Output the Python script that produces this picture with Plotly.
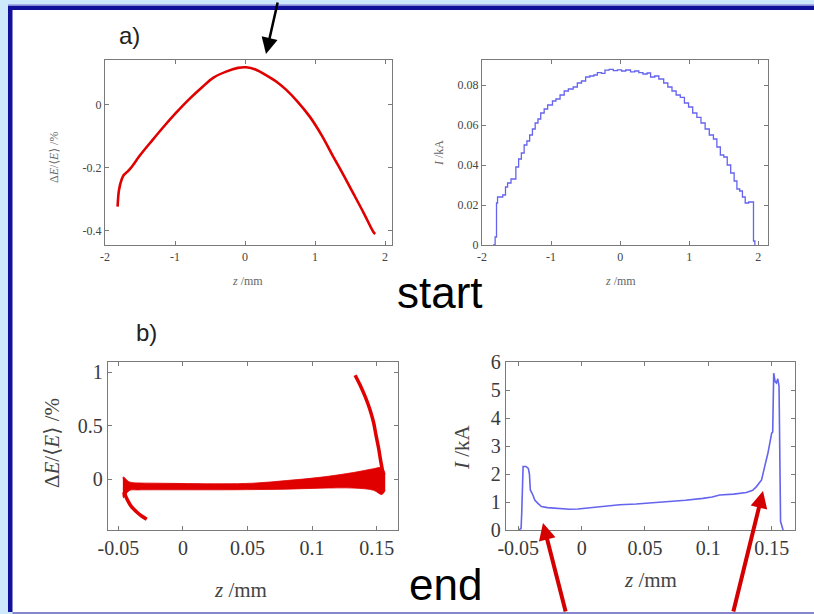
import plotly.graph_objects as go

W, H = 814, 614

# ---------------- data ----------------
# a) start : energy chirp
a_chirp_z = [-1.82, -1.80, -1.76, -1.73, -1.68, -1.63, -1.50, -1.32, -1.15, -0.99, -0.80, -0.605, -0.45,
             -0.27, -0.10, 0.017, 0.15, 0.30, 0.45, 0.59, 0.75, 0.925, 1.10, 1.26, 1.40, 1.545, 1.70, 1.83, 1.86]
a_chirp_e = [-0.323, -0.27, -0.235, -0.222, -0.212, -0.20, -0.16, -0.111, -0.066, -0.026, 0.018, 0.058, 0.087,
             0.106, 0.118, 0.12, 0.113, 0.095, 0.074, 0.048, 0.011, -0.037, -0.098, -0.164, -0.22, -0.28, -0.345, -0.402, -0.41]

# a) start : current profile (histogram)
a_cur_z = [-1.84, -1.81, -1.79, -1.775, -1.74, -1.70, -1.66, -1.63, -1.58, -1.55, -1.51, -1.47, -1.43, -1.39,
           -1.35, -1.31, -1.27, -1.23, -1.19, -1.15, -1.10, -1.05, -0.98, -0.93, -0.87, -0.81, -0.75, -0.68,
           -0.62, -0.56, -0.50, -0.44, -0.38, -0.33, -0.27, -0.22, -0.16, -0.10, -0.04, 0.02, 0.08, 0.15,
           0.21, 0.27, 0.33, 0.39, 0.44, 0.50, 0.56, 0.63, 0.69, 0.75, 0.81, 0.87, 0.93, 0.99, 1.05, 1.11,
           1.17, 1.23, 1.29, 1.35, 1.40, 1.45, 1.50, 1.55, 1.60, 1.65, 1.69, 1.73, 1.77, 1.81, 1.86, 1.90,
           1.93, 1.95]
a_cur_i = [0.0, 0.004, 0.021, 0.024, 0.024, 0.025, 0.029, 0.031, 0.033, 0.033, 0.039, 0.043, 0.046, 0.050,
           0.052, 0.055, 0.058, 0.061, 0.063, 0.066, 0.068, 0.070, 0.072, 0.073, 0.075, 0.077, 0.078, 0.079,
           0.081, 0.082, 0.084, 0.0845, 0.085, 0.0862, 0.0858, 0.0874, 0.0878, 0.0872, 0.0876, 0.0870, 0.0875, 0.0866,
           0.0870, 0.0862, 0.0855, 0.0860, 0.0840, 0.0845, 0.0830, 0.081, 0.079, 0.077, 0.075, 0.0738, 0.071, 0.069, 0.066, 0.0638,
           0.061, 0.058, 0.055, 0.053, 0.049, 0.045, 0.044, 0.040, 0.036, 0.032, 0.028, 0.027, 0.024, 0.021, 0.0215, 0.0215,
           0.002, 0.0]

# b) end : longitudinal phase space band (upper / lower edge), tail and head branch
b_band_z = [-0.0465, -0.046, -0.043, -0.041, -0.035, -0.023, -0.01, 0.0288, 0.055, 0.080, 0.106, 0.132, 0.1475, 0.154, 0.1566]
b_band_hi = [0.01, 0.024, -0.01, -0.025, -0.032, -0.034, -0.036, -0.04, -0.034, -0.01, 0.02, 0.065, 0.10, 0.11, 0.05]
b_band_lo = [-0.12, -0.17, -0.12, -0.10, -0.097, -0.096, -0.096, -0.096, -0.094, -0.09, -0.081, -0.08, -0.10, -0.14, -0.10]
b_tail_z = [-0.0455, -0.043, -0.040, -0.036, -0.032, -0.028]
b_tail_e = [-0.12, -0.19, -0.25, -0.30, -0.34, -0.37]
b_head_z = [0.1550, 0.1530, 0.1515, 0.1495, 0.1476, 0.1445, 0.1411, 0.1375, 0.1333]
b_head_e = [0.05, 0.18, 0.29, 0.41, 0.53, 0.66, 0.77, 0.87, 0.97]

# b) end : current profile
b_cur_z = [-0.0500, -0.0478, -0.0473, -0.0462, -0.0440, -0.0421, -0.0412, -0.0405, -0.0385, -0.0370, -0.0345,
           -0.0318, -0.0270, -0.0226, -0.0160, -0.0095, -0.0030, 0.0037, 0.0110, 0.0195, 0.0300, 0.0430,
           0.0560, 0.0694, 0.0820, 0.0957, 0.1030, 0.1090, 0.1200, 0.1300, 0.1350, 0.1380, 0.1420, 0.1445,
           0.1470, 0.1500, 0.1508, 0.1516, 0.1527, 0.1537, 0.1548, 0.1558, 0.1565, 0.1570, 0.1590]
b_cur_i = [0.0, 0.05, 0.6, 2.27, 2.27, 2.2, 2.0, 1.43, 1.25, 1.07, 0.95,
           0.84, 0.80, 0.78, 0.76, 0.74, 0.75, 0.78, 0.82, 0.86, 0.90, 0.93,
           0.97, 1.01, 1.06, 1.13, 1.18, 1.25, 1.28, 1.34, 1.42, 1.55, 1.79, 2.27,
           2.74, 3.46, 3.5, 5.6, 5.3, 5.25, 5.4, 5.13, 1.5, 0.3, 0.0]

# axes ticks
a_z_ticks = [-2, -1, 0, 1, 2]
a_z_text = ["-2", "-1", "0", "1", "2"]
a_e_ticks = [-0.4, -0.2, 0]
a_e_text = ["-0.4", "-0.2", "0"]
a_i_ticks = [0, 0.02, 0.04, 0.06, 0.08]
a_i_text = ["0", "0.02", "0.04", "0.06", "0.08"]
b_z_ticks = [-0.05, 0, 0.05, 0.1, 0.15]
b_z_text = ["-0.05", "0", "0.05", "0.1", "0.15"]
b_e_ticks = [0, 0.5, 1]
b_e_text = ["0", "0.5", "1"]
b_i_ticks = [0, 1, 2, 3, 4, 5, 6]
b_i_text = ["0", "1", "2", "3", "4", "5", "6"]


def px(x):
    return x / W


def py(y):
    return 1 - y / H


RED = "#e00000"
BLUE = "#6464ee"

fig = go.Figure()

# a) left
fig.add_trace(go.Scatter(x=a_chirp_z, y=a_chirp_e, mode="lines", line=dict(color=RED, width=2.6, shape="spline"),
                         xaxis="x", yaxis="y", showlegend=False))
# a) right
fig.add_trace(go.Scatter(x=a_cur_z, y=a_cur_i, mode="lines", line=dict(color=BLUE, width=1.3, shape="hv"),
                         xaxis="x2", yaxis="y2", showlegend=False))
# b) left band
fig.add_trace(go.Scatter(x=b_band_z, y=b_band_lo, mode="lines", line=dict(color=RED, width=0.8, shape="spline"),
                         xaxis="x3", yaxis="y3", showlegend=False))
fig.add_trace(go.Scatter(x=b_band_z, y=b_band_hi, mode="lines", line=dict(color=RED, width=0.8, shape="spline"),
                         fill="tonexty", fillcolor=RED, xaxis="x3", yaxis="y3", showlegend=False))
fig.add_trace(go.Scatter(x=b_tail_z, y=b_tail_e, mode="lines", line=dict(color=RED, width=3.5, shape="spline"),
                         xaxis="x3", yaxis="y3", showlegend=False))
fig.add_trace(go.Scatter(x=b_head_z, y=b_head_e, mode="lines", line=dict(color=RED, width=3.5, shape="spline"),
                         xaxis="x3", yaxis="y3", showlegend=False))
# b) right
fig.add_trace(go.Scatter(x=b_cur_z, y=b_cur_i, mode="lines", line=dict(color=BLUE, width=1.6),
                         xaxis="x4", yaxis="y4", showlegend=False))

AX = "#7a7a7a"


def axis(domain, rng, tv, tt, size, anchor, color):
    return dict(domain=domain, range=rng, tickvals=tv, ticktext=tt, anchor=anchor, automargin=False,
                showline=True, linecolor=AX, linewidth=1.3, mirror="ticks", ticks="inside",
                ticklen=4, tickcolor=AX, showgrid=False, zeroline=False,
                tickfont=dict(family="Liberation Serif, DejaVu Serif, serif", size=size, color=color))


a_y_dom = [py(245), py(60)]
b_y_dom = [py(530), py(362)]
fig.update_layout(
    xaxis=axis([px(105), px(392)], [-2.0, 2.1], a_z_ticks, a_z_text, 12, "y", "#444"),
    yaxis=axis(a_y_dom, [-0.445, 0.143], a_e_ticks, a_e_text, 12, "x", "#444"),
    xaxis2=axis([px(482), px(768)], [-2.0, 2.14], a_z_ticks, a_z_text, 12, "y2", "#444"),
    yaxis2=axis(a_y_dom, [0, 0.0925], a_i_ticks, a_i_text, 12, "x2", "#444"),
    xaxis3=axis([px(108), px(398)], [-0.058, 0.1665], b_z_ticks, b_z_text, 20, "y3", "#3a3a3a"),
    yaxis3=axis(b_y_dom, [-0.47, 1.093], b_e_ticks, b_e_text, 20, "x3", "#3a3a3a"),
    xaxis4=axis([px(506), px(795)], [-0.0597, 0.1684], b_z_ticks, b_z_text, 20, "y4", "#3a3a3a"),
    yaxis4=axis(b_y_dom, [0, 6], b_i_ticks, b_i_text, 20, "x4", "#3a3a3a"),
)

shapes = [
    dict(type="rect", xref="paper", yref="paper", x0=px(8), x1=1, y0=py(612), y1=py(5.5), fillcolor="#10109a", line_width=0, layer="below"),
    dict(type="rect", xref="paper", yref="paper", x0=px(12.5), x1=1, y0=py(612), y1=py(10), fillcolor="white", line_width=0, layer="below"),
    dict(type="rect", xref="paper", yref="paper", x0=px(12.5), x1=1, y0=0, y1=py(612), fillcolor="#8686cc", line_width=0, layer="below"),
    dict(type="rect", xref="paper", yref="paper", x0=px(8), x1=1, y0=py(5.5), y1=py(4.3), fillcolor="#9a9ae0", line_width=0, layer="below"),
]

SERIF = "Liberation Serif, DejaVu Serif, serif"
SANS = "Liberation Sans, Arial, sans-serif"
ann = []


def txt(text, x, y, size, color, family, angle=0):
    ann.append(dict(text=text, x=px(x), y=py(y), xref="paper", yref="paper", showarrow=False,
                    xanchor="center", yanchor="middle", textangle=angle,
                    font=dict(family=family, size=size, color=color)))


txt("a)", 129, 35, 24, "#222", SANS)
txt("b)", 146, 332, 24, "#222", SANS)
txt("start", 440, 292, 44, "#000", SANS)
txt("end", 445, 584, 44, "#000", SANS)

lab_e = "Δ<i>E</i>/⟨<i>E</i>⟩ /%"
txt(lab_e, 54, 157, 12, "#666", SERIF, -90)
txt("<i>z</i> /mm", 247, 281, 12, "#666", SERIF)
txt("<i>I</i> /kA", 439, 153, 12, "#666", SERIF, -90)
txt("<i>z</i> /mm", 620, 281, 12, "#666", SERIF)
txt(lab_e, 52, 443, 21, "#444", SERIF, -90)
txt("<i>z</i> /mm", 240, 590, 21, "#444", SERIF)
txt("<i>I</i> /kA", 462, 447, 21, "#444", SERIF, -90)
txt("<i>z</i> /mm", 650, 580, 21, "#444", SERIF)


def arrow(hx, hy, tx, ty, color, width, size):
    ann.append(dict(text="", x=px(hx), y=py(hy), xref="paper", yref="paper", showarrow=True,
                    ax=tx - hx, ay=ty - hy, axref="pixel", ayref="pixel",
                    arrowhead=2, arrowsize=size, arrowwidth=width, arrowcolor=color, standoff=0))


arrow(266, 54, 278, 1, "#000", 2.5, 1.3)
arrow(543, 523, 566, 613, "#d40000", 4, 0.85)
arrow(763, 491, 733, 613, "#d40000", 4, 0.85)

fig.update_layout(width=W, height=H, margin=dict(l=0, r=0, t=0, b=0, pad=0, autoexpand=False), autosize=False,
                  paper_bgcolor="#cde9fb", plot_bgcolor="white", shapes=shapes, annotations=ann,
                  showlegend=False)

fig.write_html("out.html", config={"displayModeBar": False},
               post_script="document.body.style.margin='0px';document.body.style.overflow='hidden';")
